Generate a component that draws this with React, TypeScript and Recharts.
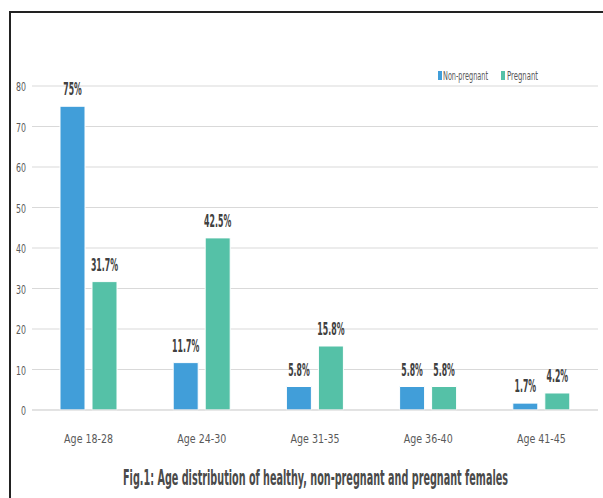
import React from 'react';
import { BarChart, Bar, XAxis, YAxis, CartesianGrid, LabelList } from 'recharts';

const categories = ['Age 18-28', 'Age 24-30', 'Age 31-35', 'Age 36-40', 'Age 41-45'];
const nonPregnant = [75, 11.7, 5.8, 5.8, 1.7];
const pregnant = [31.7, 42.5, 15.8, 5.8, 4.2];
const yTicks = [0, 10, 20, 30, 40, 50, 60, 70, 80];
const seriesNames = ['Non-pregnant', 'Pregnant'];
const colors = ['#419ED9', '#55C1A7'];
const title = 'Fig.1: Age distribution of healthy, non-pregnant and pregnant females';

const data = categories.map((c, i) => ({ name: c, np: nonPregnant[i], p: pregnant[i] }));

const FONT = "'DejaVu Sans Condensed', 'DejaVu Sans', sans-serif";

// approximate width of condensed glyphs
const charW = (ch: string, base: number) => {
  if (ch === '.' || ch === ':' || ch === ',') return base * 0.55;
  if (ch === '%') return base * 1.3;
  if (ch === ' ') return base * 0.6;
  if (ch === '-') return base * 0.7;
  return base;
};
const textLen = (s: string, base: number) => s.split('').reduce((a, ch) => a + charW(ch, base), 0);

// condensed text: horizontally scaled so its box matches the drawn width
const CText = ({ x, y, s, width, sx, anchor = 'start', size, weight = 'normal', fill }: any) => (
  <g transform={`translate(${x},${y}) scale(${sx},1)`}>
    <text x={0} y={0} textAnchor={anchor} fontFamily={FONT} fontSize={size} fontWeight={weight} fill={fill}
      textLength={width / sx} lengthAdjust="spacingAndGlyphs">{s}</text>
  </g>
);

const XTick = (props: any) => {
  const { x, y, payload } = props;
  const s = String(payload.value);
  return <CText x={x} y={y + 33} s={s} width={textLen(s, 5.9)} sx={0.7} anchor="middle" size={13} fill="#595959" />;
};

const YTick = (props: any) => {
  const { x, y, payload } = props;
  const s = String(payload.value);
  return <CText x={x} y={y + 5} s={s} width={textLen(s, 5)} sx={0.68} anchor="end" size={13} fill="#595959" />;
};

const ValueLabel = (props: any) => {
  const { x, y, width, value } = props;
  const s = `${value}%`;
  return <CText x={x + width / 2} y={y - 11} s={s} width={textLen(s, 5.6)} sx={0.5} anchor="middle" size={17} weight="bold" fill="#404040" />;
};

export default function App() {
  return (
    <div style={{ position: 'absolute', left: 0, top: 0, width: 603, height: 498, background: '#fff', overflow: 'hidden' }}>
      <div style={{ position: 'absolute', left: 9, top: 11, width: 620, height: 520, borderLeft: '2px solid #222', borderTop: '2px solid #222' }} />
      <BarChart
        width={603}
        height={498}
        data={data}
        margin={{ top: 86, right: 5, bottom: 58, left: 10 }}
        barSize={25}
        barGap={7}
      >
        <CartesianGrid vertical={false} stroke="#d9d9d9" />
        <XAxis
          dataKey="name"
          axisLine={{ stroke: '#d9d9d9' }}
          tickLine={false}
          tickSize={0}
          tickMargin={0}
          height={30}
          tick={<XTick />}
        />
        <YAxis
          domain={[0, 80]}
          ticks={yTicks}
          width={22}
          axisLine={false}
          tickLine={false}
          tickSize={0}
          tickMargin={6}
          tick={<YTick />}
        />
        <Bar dataKey="np" name={seriesNames[0]} fill={colors[0]} stroke="#fff" strokeWidth={1} isAnimationActive={false}>
          <LabelList dataKey="np" content={<ValueLabel />} />
        </Bar>
        <Bar dataKey="p" name={seriesNames[1]} fill={colors[1]} stroke="#fff" strokeWidth={1} isAnimationActive={false}>
          <LabelList dataKey="p" content={<ValueLabel />} />
        </Bar>
      </BarChart>
      <svg style={{ position: 'absolute', left: 0, top: 0, pointerEvents: 'none' }} width={603} height={498}>
        <rect x={438} y={71} width={4} height={9} fill={colors[0]} />
        <CText x={443} y={80} s={seriesNames[0]} width={45} sx={0.57} size={12} fill="#595959" />
        <rect x={501} y={71} width={4} height={9} fill={colors[1]} />
        <CText x={507} y={80} s={seriesNames[1]} width={31} sx={0.57} size={12} fill="#595959" />
        <CText x={123} y={485} s={title} width={385} sx={0.55} size={21} weight="bold" fill="#4a4a4a" />
      </svg>
    </div>
  );
}
